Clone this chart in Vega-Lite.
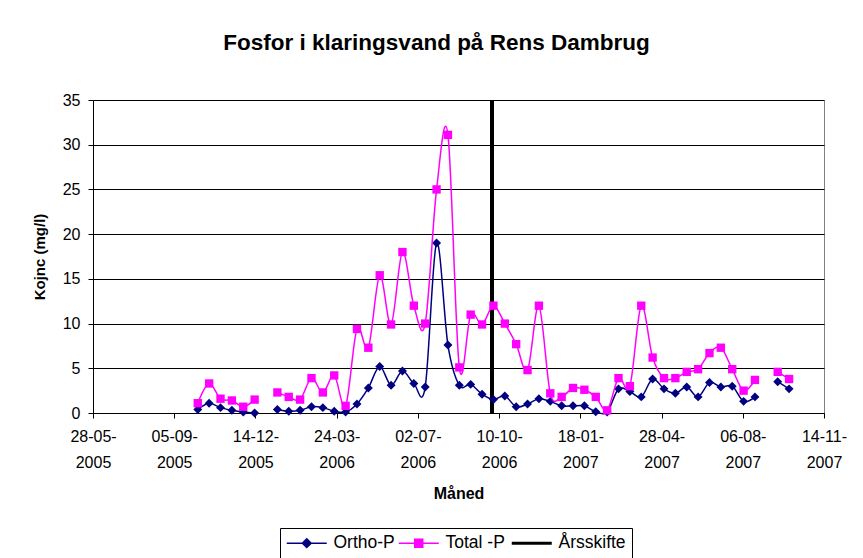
{
  "$schema": "https://vega.github.io/schema/vega-lite/v6.json",
  "autosize": {"type": "none"},
  "width": 731,
  "height": 313,
  "padding": {"left": 93, "top": 100, "right": 39, "bottom": 145},
  "background": "white",
  "title": {"text": "Fosfor i klaringsvand på Rens Dambrug", "font": "Liberation Sans", "fontSize": 22.5, "fontWeight": "bold", "color": "black", "anchor": "middle", "offset": 38, "dx": -22},
  "config": {
    "font": "Liberation Sans",
    "view": {"stroke": "#808080", "strokeWidth": 1}
  },
  "data": {"values": [
    {"dato": "2005-10-04", "ortho": 0.4, "total": 1.1},
    {"dato": "2005-10-18", "ortho": 1.1, "total": 3.3},
    {"dato": "2005-11-01", "ortho": 0.6, "total": 1.6},
    {"dato": "2005-11-15", "ortho": 0.3, "total": 1.4},
    {"dato": "2005-11-29", "ortho": 0.1, "total": 0.7},
    {"dato": "2005-12-13", "ortho": 0.0, "total": 1.5},
    {"dato": "2005-12-27", "ortho": null, "total": null},
    {"dato": "2006-01-10", "ortho": 0.4, "total": 2.3},
    {"dato": "2006-01-24", "ortho": 0.2, "total": 1.8},
    {"dato": "2006-02-07", "ortho": 0.3, "total": 1.5},
    {"dato": "2006-02-21", "ortho": 0.7, "total": 3.9},
    {"dato": "2006-03-07", "ortho": 0.6, "total": 2.3},
    {"dato": "2006-03-21", "ortho": 0.2, "total": 4.2},
    {"dato": "2006-04-04", "ortho": 0.1, "total": 0.8},
    {"dato": "2006-04-18", "ortho": 1.0, "total": 9.4},
    {"dato": "2006-05-02", "ortho": 2.8, "total": 7.3},
    {"dato": "2006-05-16", "ortho": 5.2, "total": 15.4},
    {"dato": "2006-05-30", "ortho": 3.1, "total": 9.9},
    {"dato": "2006-06-13", "ortho": 4.7, "total": 18.0},
    {"dato": "2006-06-27", "ortho": 3.3, "total": 12.0},
    {"dato": "2006-07-11", "ortho": 2.9, "total": 10.0},
    {"dato": "2006-07-25", "ortho": 19.0, "total": 25.0},
    {"dato": "2006-08-08", "ortho": 7.6, "total": 31.1},
    {"dato": "2006-08-22", "ortho": 3.1, "total": 5.1},
    {"dato": "2006-09-05", "ortho": 3.2, "total": 11.0},
    {"dato": "2006-09-19", "ortho": 2.1, "total": 9.9},
    {"dato": "2006-10-03", "ortho": 1.5, "total": 12.0},
    {"dato": "2006-10-17", "ortho": 1.9, "total": 10.0},
    {"dato": "2006-10-31", "ortho": 0.7, "total": 7.7},
    {"dato": "2006-11-14", "ortho": 1.0, "total": 4.8},
    {"dato": "2006-11-28", "ortho": 1.6, "total": 12.0},
    {"dato": "2006-12-12", "ortho": 1.3, "total": 2.2},
    {"dato": "2006-12-26", "ortho": 0.8, "total": 1.8},
    {"dato": "2007-01-09", "ortho": 0.8, "total": 2.8},
    {"dato": "2007-01-23", "ortho": 0.8, "total": 2.6},
    {"dato": "2007-02-06", "ortho": 0.15, "total": 1.8},
    {"dato": "2007-02-20", "ortho": 0.1, "total": 0.3},
    {"dato": "2007-03-06", "ortho": 2.7, "total": 3.9},
    {"dato": "2007-03-20", "ortho": 2.4, "total": 3.0},
    {"dato": "2007-04-03", "ortho": 1.8, "total": 12.0},
    {"dato": "2007-04-17", "ortho": 3.8, "total": 6.2},
    {"dato": "2007-05-01", "ortho": 2.7, "total": 3.9},
    {"dato": "2007-05-15", "ortho": 2.2, "total": 3.9},
    {"dato": "2007-05-29", "ortho": 2.9, "total": 4.6},
    {"dato": "2007-06-12", "ortho": 1.8, "total": 4.9},
    {"dato": "2007-06-26", "ortho": 3.4, "total": 6.7},
    {"dato": "2007-07-10", "ortho": 2.9, "total": 7.3},
    {"dato": "2007-07-24", "ortho": 3.0, "total": 4.9},
    {"dato": "2007-08-07", "ortho": 1.3, "total": 2.5},
    {"dato": "2007-08-21", "ortho": 1.8, "total": 3.7},
    {"dato": "2007-09-04", "ortho": null, "total": null},
    {"dato": "2007-09-18", "ortho": 3.5, "total": 4.6},
    {"dato": "2007-10-02", "ortho": 2.7, "total": 3.8}
  ]},
  "encoding": {
    "x": {
      "field": "dato",
      "type": "temporal",
      "scale": {"type": "utc", "domain": [{"year": 2005, "month": 5, "date": 28, "utc": true}, {"year": 2007, "month": 11, "date": 14, "utc": true}]},
      "axis": {
        "values": [
          {"year": 2005, "month": 5, "date": 28, "utc": true},
          {"year": 2005, "month": 9, "date": 5, "utc": true},
          {"year": 2005, "month": 12, "date": 14, "utc": true},
          {"year": 2006, "month": 3, "date": 24, "utc": true},
          {"year": 2006, "month": 7, "date": 2, "utc": true},
          {"year": 2006, "month": 10, "date": 10, "utc": true},
          {"year": 2007, "month": 1, "date": 18, "utc": true},
          {"year": 2007, "month": 4, "date": 28, "utc": true},
          {"year": 2007, "month": 8, "date": 6, "utc": true},
          {"year": 2007, "month": 11, "date": 14, "utc": true}
        ],
        "labelExpr": "[utcFormat(datum.value, '%d-%m-'), utcFormat(datum.value, '%Y')]",
        "title": "Måned",
        "grid": false,
        "tickSize": 5,
        "tickColor": "black",
        "domainColor": "black",
        "labelColor": "black",
        "labelFontSize": 16,
        "labelLineHeight": 26,
        "labelPadding": 10,
        "labelFlush": false,
        "labelOverlap": false,
        "titleFontSize": 16,
        "titleFontWeight": "bold",
        "titleColor": "black",
        "titlePadding": 15
      }
    }
  },
  "layer": [
    {
      "mark": {"type": "rule", "strokeWidth": 3},
      "encoding": {
        "x": {"datum": {"year": 2006, "month": 10, "date": 1, "utc": true}, "type": "temporal"},
        "color": {"datum": "Årsskifte"}
      }
    },
    {
      "mark": {"type": "line", "interpolate": "cardinal", "strokeWidth": 1.5, "invalid": "break-paths-filter-domains"},
      "encoding": {
        "y": {
          "field": "ortho", "type": "quantitative", "title": "Kojnc (mg/l)",
          "scale": {"domain": [0, 35], "nice": false},
          "axis": {
            "values": [0, 5, 10, 15, 20, 25, 30, 35],
            "title": "Kojnc (mg/l)",
            "grid": true, "gridColor": "black", "gridOpacity": 1, "gridWidth": 1,
            "tickSize": 5, "tickColor": "black", "domainColor": "black",
            "labelColor": "black", "labelFontSize": 16, "labelPadding": 8,
            "titleFontSize": 15, "titleFontWeight": "bold", "titleColor": "black", "titlePadding": 15
          }
        },
        "color": {
          "datum": "Ortho-P",
          "scale": {"domain": ["Ortho-P", "Total -P", "Årsskifte"], "range": ["#000080", "#FF00FF", "#000000"]},
          "legend": {
            "orient": "none",
            "legendX": 187,
            "legendY": 428,
            "direction": "horizontal",
            "title": null,
            "strokeColor": "black",
            "padding": 6,
            "labelFontSize": 17.5,
            "labelColor": "black",
            "symbolSize": 1600,
            "symbolOffset": 12,
            "columnPadding": 0,
            "labelOffset": 18,
            "encode": {
              "symbols": {
                "update": {
                  "shape": {"signal": "datum.value === 'Ortho-P' ? 'M-1,0H1M0,-0.22L0.22,0L0,0.22L-0.22,0Z' : (datum.value === 'Total -P' ? 'M-1,0H1M-0.2,-0.2H0.2V0.2H-0.2Z' : 'M-1,0H1')"},
                  "strokeWidth": {"signal": "datum.value === 'Årsskifte' ? 3 : 1.5"},
                  "fill": {"scale": "color", "field": "value"},
                  "stroke": {"scale": "color", "field": "value"},
                  "opacity": {"value": 1},
                  "fillOpacity": {"value": 1},
                  "strokeOpacity": {"value": 1}
                }
              }
            }
          }
        }
      }
    },
    {
      "mark": {"type": "point", "shape": "diamond", "filled": true, "size": 80, "opacity": 1},
      "encoding": {
        "y": {"field": "ortho", "type": "quantitative", "title": "Kojnc (mg/l)"},
        "color": {"datum": "Ortho-P"}
      }
    },
    {
      "mark": {"type": "line", "interpolate": "cardinal", "strokeWidth": 1.5, "invalid": "break-paths-filter-domains"},
      "encoding": {
        "y": {"field": "total", "type": "quantitative", "title": "Kojnc (mg/l)"},
        "color": {"datum": "Total -P"}
      }
    },
    {
      "mark": {"type": "point", "shape": "square", "filled": true, "size": 70, "opacity": 1},
      "encoding": {
        "y": {"field": "total", "type": "quantitative", "title": "Kojnc (mg/l)"},
        "color": {"datum": "Total -P"}
      }
    }
  ]
}
